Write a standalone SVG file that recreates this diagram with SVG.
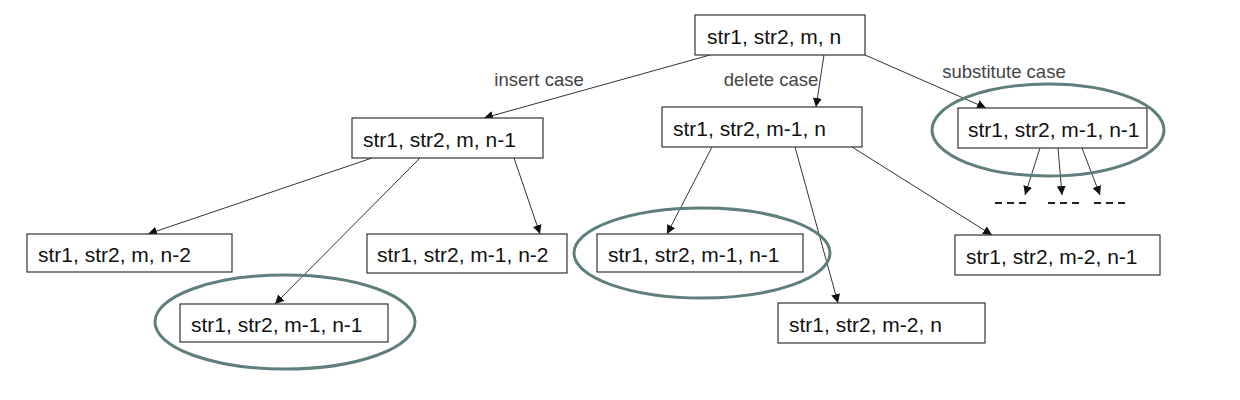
<svg xmlns="http://www.w3.org/2000/svg" width="1240" height="400" viewBox="0 0 1240 400">
<style>
.box{fill:#fff;stroke:#333;stroke-width:1.2}
.t{font-family:"Liberation Sans",Arial,sans-serif;font-size:21px;fill:#111}
.lbl{font-family:"Liberation Sans",Arial,sans-serif;font-size:18.5px;fill:#444;text-anchor:middle}
.c{stroke:#333;stroke-width:1;fill:none;marker-end:url(#ah)}
.ell{fill:none;stroke:#5f7f7e;stroke-width:3}
.dash{stroke:#222;stroke-width:2;stroke-dasharray:7 5}
</style>
<defs>
<marker id="ah" viewBox="0 0 10 10" refX="10" refY="5" markerWidth="9" markerHeight="9" markerUnits="userSpaceOnUse" orient="auto">
<path d="M0,0 L10,5 L0,10 z" fill="#111"/>
</marker>
</defs>
<rect width="1240" height="400" fill="#fff"/>
<g id="connectors">
<line class="c" x1="710" y1="55" x2="484" y2="118"/>
<line class="c" x1="824" y1="55" x2="816" y2="107"/>
<line class="c" x1="865" y1="55" x2="986" y2="108"/>
<line class="c" x1="372" y1="158" x2="148" y2="234"/>
<line class="c" x1="420" y1="158" x2="275" y2="304"/>
<line class="c" x1="514" y1="158" x2="540" y2="234"/>
<line class="c" x1="712" y1="147" x2="667" y2="234"/>
<line class="c" x1="795" y1="147" x2="838" y2="303"/>
<line class="c" x1="852" y1="147" x2="992" y2="235"/>
<line class="c" x1="1040" y1="148" x2="1025" y2="195"/>
<line class="c" x1="1058" y1="148" x2="1062" y2="195"/>
<line class="c" x1="1082" y1="148" x2="1100" y2="195"/>
</g>
<g id="labels">
<text class="lbl" x="539" y="86">insert case</text>
<text class="lbl" x="771" y="86">delete case</text>
<text class="lbl" x="1004" y="78">substitute case</text>
</g>
<g id="root"><rect class="box" x="695" y="15" width="170" height="40"/><text class="t" x="707" y="44">str1, str2, m, n</text></g>
<g id="insert"><rect class="box" x="352" y="118" width="191" height="40"/><text class="t" x="363" y="147">str1, str2, m, n-1</text></g>
<g id="delete"><rect class="box" x="662" y="107" width="200" height="40"/><text class="t" x="673" y="136">str1, str2, m-1, n</text></g>
<g id="substitute"><rect class="box" x="958" y="108" width="189" height="40"/><text class="t" x="968" y="137">str1, str2, m-1, n-1</text>
<ellipse class="ell" cx="1048" cy="130" rx="116" ry="46"/></g>
<g id="ins-n2"><rect class="box" x="27" y="234" width="205" height="38"/><text class="t" x="38" y="262">str1, str2, m, n-2</text></g>
<g id="ins-sub"><rect class="box" x="367" y="234" width="200" height="39"/><text class="t" x="377" y="262">str1, str2, m-1, n-2</text></g>
<g id="ins-del"><rect class="box" x="180" y="304" width="208" height="38"/><text class="t" x="191" y="332">str1, str2, m-1, n-1</text>
<ellipse class="ell" cx="285" cy="322" rx="130" ry="47"/></g>
<g id="del-ins"><rect class="box" x="597" y="234" width="206" height="38"/><text class="t" x="608" y="262">str1, str2, m-1, n-1</text>
<ellipse class="ell" cx="702" cy="253" rx="128" ry="45"/></g>
<g id="del-del"><rect class="box" x="778" y="303" width="207" height="40"/><text class="t" x="789" y="332">str1, str2, m-2, n</text></g>
<g id="del-sub"><rect class="box" x="955" y="235" width="205" height="40"/><text class="t" x="966" y="264">str1, str2, m-2, n-1</text></g>
<g id="more">
<line class="dash" x1="995" y1="203" x2="1029" y2="203"/>
<line class="dash" x1="1048" y1="203" x2="1082" y2="203"/>
<line class="dash" x1="1094" y1="203" x2="1128" y2="203"/>
</g>
</svg>
